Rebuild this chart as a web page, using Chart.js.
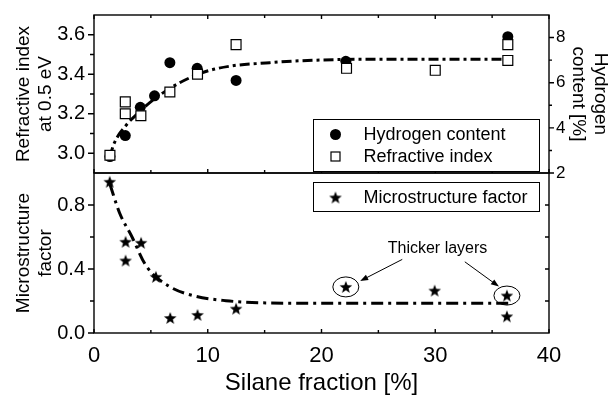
<!DOCTYPE html>
<html>
<head>
<meta charset="utf-8">
<script src="https://cdn.jsdelivr.net/npm/chart.js@4.4.1/dist/chart.umd.min.js"></script>
<style>
  html, body { margin: 0; padding: 0; background: #fff; }
  #wrap { position: relative; width: 609px; height: 396px; overflow: hidden; }
  #wrap canvas { position: absolute; left: 0; top: 0; }
</style>
</head>
<body>
<div id="wrap">
  <canvas id="topChart" width="609" height="396"></canvas>
  <canvas id="bottomChart" width="609" height="396"></canvas>
</div>
<script>
// values
let silaneH = [1.4, 2.75, 4.07, 5.32, 6.67, 9.07, 12.49, 22.14, 36.38]
let hydrogenContent = [2.73, 3.66, 4.91, 5.42, 6.89, 6.64, 6.10, 6.95, 8.04]

let silaneRI = [1.4, 2.75, 2.75, 4.12, 6.67, 9.1, 12.49, 22.2, 30.0, 36.38, 36.38]
let refractiveIndex = [2.99, 3.26, 3.20, 3.19, 3.31, 3.40, 3.55, 3.43, 3.42, 3.55, 3.47]

let silaneFitRI = [1.4, 1.7, 2.8, 4.0, 5.2, 7.5, 9.9, 12.2, 15.1, 18.0, 25.0, 36.7]
let fitRI = [2.98, 3.04, 3.14, 3.21, 3.27, 3.356, 3.415, 3.443, 3.457, 3.468, 3.476, 3.476]

let silaneM = [1.38, 2.78, 2.78, 4.14, 5.44, 6.70, 9.1, 12.49, 22.14, 29.95, 36.3, 36.3]
let microFactor = [0.945, 0.570, 0.453, 0.564, 0.351, 0.094, 0.113, 0.152, 0.288, 0.265, 0.234, 0.104]

let silaneFitM = [1.4, 2.25, 3.3, 4.6, 6.6, 8.7, 11.6, 15.1, 20.0, 30.0, 36.8]
let fitM = [0.93, 0.75, 0.606, 0.418, 0.292, 0.234, 0.202, 0.188, 0.186, 0.186, 0.186]

let xTicks = [0, 10, 20, 30, 40]
let riTicks = [3.0, 3.2, 3.4, 3.6]
let hTicks = [2, 4, 6, 8]
let mTicks = [0.0, 0.4, 0.8]
let mRightTicks = [0.2, 0.4, 0.6, 0.8]

const FONT = '"Liberation Sans", Arial, Helvetica, sans-serif'
Chart.defaults.font.family = FONT
Chart.defaults.color = '#000'

function pts(xs, ys) {
  return xs.map((x, i) => ({ x: x, y: ys[i] }))
}

function starImage(r) {
  let c = document.createElement('canvas')
  let s = Math.ceil(r * 2 + 2)
  c.width = s
  c.height = s
  let g = c.getContext('2d')
  g.beginPath()
  for (let i = 0; i < 10; i++) {
    let rad = i % 2 ? r * 0.42 : r
    let ang = -Math.PI / 2 + i * Math.PI / 5
    let px = s / 2 + rad * Math.cos(ang)
    let py = s / 2 + 0.6 + rad * Math.sin(ang)
    if (i) g.lineTo(px, py); else g.moveTo(px, py)
  }
  g.closePath()
  g.fillStyle = '#000'
  g.fill()
  return c
}
let star = starImage(6.6)

// midpoints between majors, inside the axis range
function minors(scale, majors) {
  let out = []
  let step = majors[1] - majors[0]
  let v = majors[0] - step / 2
  while (v < scale.max + 1e-9) {
    if (v > scale.min + 1e-9 && v < scale.max - 1e-9) out.push(v)
    v += step
  }
  return out
}

function tickLines(ctx, chart, scale, values, side, len) {
  let a = chart.chartArea
  ctx.beginPath()
  values.forEach(v => {
    let p = scale.getPixelForValue(v)
    if (side == 'top') { ctx.moveTo(p, a.top); ctx.lineTo(p, a.top + len) }
    if (side == 'bottom') { ctx.moveTo(p, a.bottom); ctx.lineTo(p, a.bottom - len) }
    if (side == 'left') { ctx.moveTo(a.left, p); ctx.lineTo(a.left - len, p) }
    if (side == 'right-out') { ctx.moveTo(a.right, p); ctx.lineTo(a.right + len, p) }
    if (side == 'right-in') { ctx.moveTo(a.right, p); ctx.lineTo(a.right - len, p) }
  })
  ctx.stroke()
}

function drawLegend(ctx, box, items) {
  ctx.save()
  ctx.fillStyle = '#fff'
  ctx.fillRect(box.x, box.y, box.w, box.h)
  ctx.strokeStyle = '#000'
  ctx.lineWidth = 1
  ctx.strokeRect(box.x, box.y, box.w, box.h)
  items.forEach(it => {
    let mx = box.x + 22, my = it.y
    if (it.marker == 'circle') {
      ctx.beginPath(); ctx.arc(mx, my, 5.5, 0, Math.PI * 2); ctx.fillStyle = '#000'; ctx.fill()
    } else if (it.marker == 'square') {
      ctx.lineWidth = 1.2; ctx.strokeRect(mx - 4.5, my - 4.5, 9, 9)
    } else {
      ctx.drawImage(star, mx - star.width / 2, my - star.height / 2)
    }
    ctx.fillStyle = '#000'
    ctx.font = '18px ' + FONT
    ctx.textBaseline = 'middle'
    ctx.textAlign = 'left'
    ctx.fillText(it.text, box.x + 50, my + 1)
  })
  ctx.restore()
}

function arrow(ctx, x1, y1, x2, y2) {
  let ang = Math.atan2(y2 - y1, x2 - x1)
  ctx.beginPath(); ctx.moveTo(x1, y1); ctx.lineTo(x2 - 5 * Math.cos(ang), y2 - 5 * Math.sin(ang)); ctx.stroke()
  ctx.beginPath()
  ctx.moveTo(x2, y2)
  ctx.lineTo(x2 - 8 * Math.cos(ang) + 3 * Math.sin(ang), y2 - 8 * Math.sin(ang) - 3 * Math.cos(ang))
  ctx.lineTo(x2 - 8 * Math.cos(ang) - 3 * Math.sin(ang), y2 - 8 * Math.sin(ang) + 3 * Math.cos(ang))
  ctx.closePath(); ctx.fill()
}

let topFrame = {
  id: 'topFrame',
  afterDatasetsDraw(chart) {
    let ctx = chart.ctx, a = chart.chartArea, s = chart.scales
    ctx.save()
    ctx.strokeStyle = '#000'
    ctx.lineWidth = 1.4
    ctx.strokeRect(a.left, a.top, a.right - a.left, a.bottom - a.top)
    tickLines(ctx, chart, s.x, xTicks, 'top', 4)
    tickLines(ctx, chart, s.x, minors(s.x, xTicks), 'top', 3)
    tickLines(ctx, chart, s.x, xTicks, 'bottom', 4)
    tickLines(ctx, chart, s.x, minors(s.x, xTicks), 'bottom', 3)
    tickLines(ctx, chart, s.yRI, riTicks, 'left', 6)
    tickLines(ctx, chart, s.yRI, minors(s.yRI, riTicks), 'left', 4)
    tickLines(ctx, chart, s.yH, hTicks, 'right-out', 5)
    tickLines(ctx, chart, s.yH, minors(s.yH, hTicks), 'right-out', 3)
    ctx.restore()
    drawLegend(ctx, { x: 313.5, y: 119.5, w: 226, h: 52 }, [
      { marker: 'circle', text: 'Hydrogen content', y: 134.5 },
      { marker: 'square', text: 'Refractive index', y: 156.5 }
    ])
  }
}

let bottomFrame = {
  id: 'bottomFrame',
  afterDatasetsDraw(chart) {
    let ctx = chart.ctx, a = chart.chartArea, s = chart.scales
    ctx.save()
    ctx.strokeStyle = '#000'
    ctx.fillStyle = '#000'
    ctx.lineWidth = 1.4
    ctx.strokeRect(a.left, a.top, a.right - a.left, a.bottom - a.top)
    tickLines(ctx, chart, s.x, xTicks, 'bottom', 4)
    tickLines(ctx, chart, s.x, minors(s.x, xTicks), 'bottom', 3)
    tickLines(ctx, chart, s.yM, mTicks, 'left', 6)
    tickLines(ctx, chart, s.yM, minors(s.yM, mTicks), 'left', 4)
    tickLines(ctx, chart, s.yM, mRightTicks, 'right-in', 4)

    // "Thicker layers" note
    ctx.lineWidth = 1
    let X = v => s.x.getPixelForValue(v), Y = v => s.yM.getPixelForValue(v)
    ctx.beginPath(); ctx.ellipse(X(22.14), Y(0.288), 13, 10, 0, 0, Math.PI * 2); ctx.stroke()
    ctx.beginPath(); ctx.ellipse(X(36.3), Y(0.234), 13, 9.5, 0, 0, Math.PI * 2); ctx.stroke()
    arrow(ctx, X(27.1), Y(0.46), X(23.4), Y(0.325))
    arrow(ctx, X(32.6), Y(0.445), X(35.6), Y(0.29))
    ctx.font = '16px ' + FONT
    ctx.textAlign = 'center'
    ctx.textBaseline = 'middle'
    ctx.fillText('Thicker layers', X(30.2), Y(0.53))
    ctx.restore()
    drawLegend(ctx, { x: 313.5, y: 182.5, w: 226, h: 29 }, [
      { marker: 'star', text: 'Microstructure factor', y: 197.5 }
    ])
  }
}

let noGrid = { display: false, drawTicks: false }

// fixed box sizes so both panels share the same plot edges
function fixWidth(w) {
  return s => { s.width = w; s.paddingTop = 0; s.paddingBottom = 0 }
}

new Chart(document.getElementById('topChart'), {
  type: 'scatter',
  data: {
    datasets: [
      {
        label: 'Refractive index', data: pts(silaneRI, refractiveIndex), yAxisID: 'yRI',
        pointStyle: 'rect', pointRadius: 7, pointBackgroundColor: '#fff',
        pointBorderColor: '#000', pointBorderWidth: 1.2, order: 0
      },
      {
        label: 'Hydrogen content', data: pts(silaneH, hydrogenContent), yAxisID: 'yH',
        pointStyle: 'circle', pointRadius: 5.5, pointBackgroundColor: '#000',
        pointBorderColor: '#000', pointBorderWidth: 0, order: 1
      },
      {
        label: 'fit', data: pts(silaneFitRI, fitRI), yAxisID: 'yRI', showLine: true,
        pointRadius: 0, borderColor: '#000', borderWidth: 3, borderDash: [10, 4, 3, 4],
        cubicInterpolationMode: 'monotone', order: 2
      }
    ]
  },
  options: {
    responsive: false,
    animation: false,
    events: [],
    layout: { padding: { top: 15, bottom: 223, left: 0, right: 0 } },
    plugins: { legend: { display: false }, tooltip: { enabled: false } },
    scales: {
      x: { type: 'linear', min: 0, max: 40, display: false },
      yRI: {
        position: 'left', min: 2.9, max: 3.7,
        afterBuildTicks: s => { s.ticks = riTicks.map(v => ({ value: v })) },
        afterFit: fixWidth(94),
        grid: noGrid, border: { display: false },
        ticks: { padding: 9, font: { size: 20 }, callback: v => v.toFixed(1) },
        title: { display: true, text: ['Refractive index', 'at 0.5 eV'], font: { size: 19, lineHeight: 1.2 }, padding: { top: 12 } }
      },
      yH: {
        position: 'right', min: 2, max: 9,
        afterBuildTicks: s => { s.ticks = hTicks.map(v => ({ value: v })) },
        afterFit: fixWidth(60),
        grid: noGrid, border: { display: false },
        ticks: { padding: 7, font: { size: 17 } },
        title: { display: true, text: ['Hydrogen', 'content [%]'], font: { size: 19, lineHeight: 1.16 }, padding: { top: -2 } }
      }
    }
  },
  plugins: [topFrame]
})

new Chart(document.getElementById('bottomChart'), {
  type: 'scatter',
  data: {
    datasets: [
      {
        label: 'Microstructure factor', data: pts(silaneM, microFactor), yAxisID: 'yM',
        pointStyle: star, pointRadius: 7, order: 0
      },
      {
        label: 'fit', data: pts(silaneFitM, fitM), yAxisID: 'yM', showLine: true,
        pointRadius: 0, borderColor: '#000', borderWidth: 3, borderDash: [12, 5, 3, 5],
        cubicInterpolationMode: 'monotone', order: 1
      }
    ]
  },
  options: {
    responsive: false,
    animation: false,
    events: [],
    layout: { padding: { top: 173, bottom: 0, left: 0, right: 0 } },
    plugins: { legend: { display: false }, tooltip: { enabled: false } },
    scales: {
      x: {
        type: 'linear', position: 'bottom', min: 0, max: 40,
        afterBuildTicks: s => { s.ticks = xTicks.map(v => ({ value: v })) },
        afterFit: s => { s.height = 63 },
        grid: noGrid, border: { display: false },
        ticks: { padding: 10, font: { size: 22 }, maxRotation: 0 },
        title: { display: true, text: 'Silane fraction [%]', font: { size: 24 }, padding: { top: 0, bottom: -2 } }
      },
      yM: {
        position: 'left', min: 0, max: 1.0,
        afterBuildTicks: s => { s.ticks = mTicks.map(v => ({ value: v })) },
        afterFit: fixWidth(94),
        grid: noGrid, border: { display: false },
        ticks: { padding: 9, font: { size: 20 }, callback: v => v.toFixed(1) },
        title: { display: true, text: ['Microstructure', 'factor'], font: { size: 19, lineHeight: 1.2 }, padding: { top: 12 } }
      },
      yM2: {
        position: 'right', min: 0, max: 1.0,
        afterFit: fixWidth(60),
        grid: noGrid, border: { display: false },
        ticks: { display: false }
      }
    }
  },
  plugins: [bottomFrame]
})
</script>
</body>
</html>
